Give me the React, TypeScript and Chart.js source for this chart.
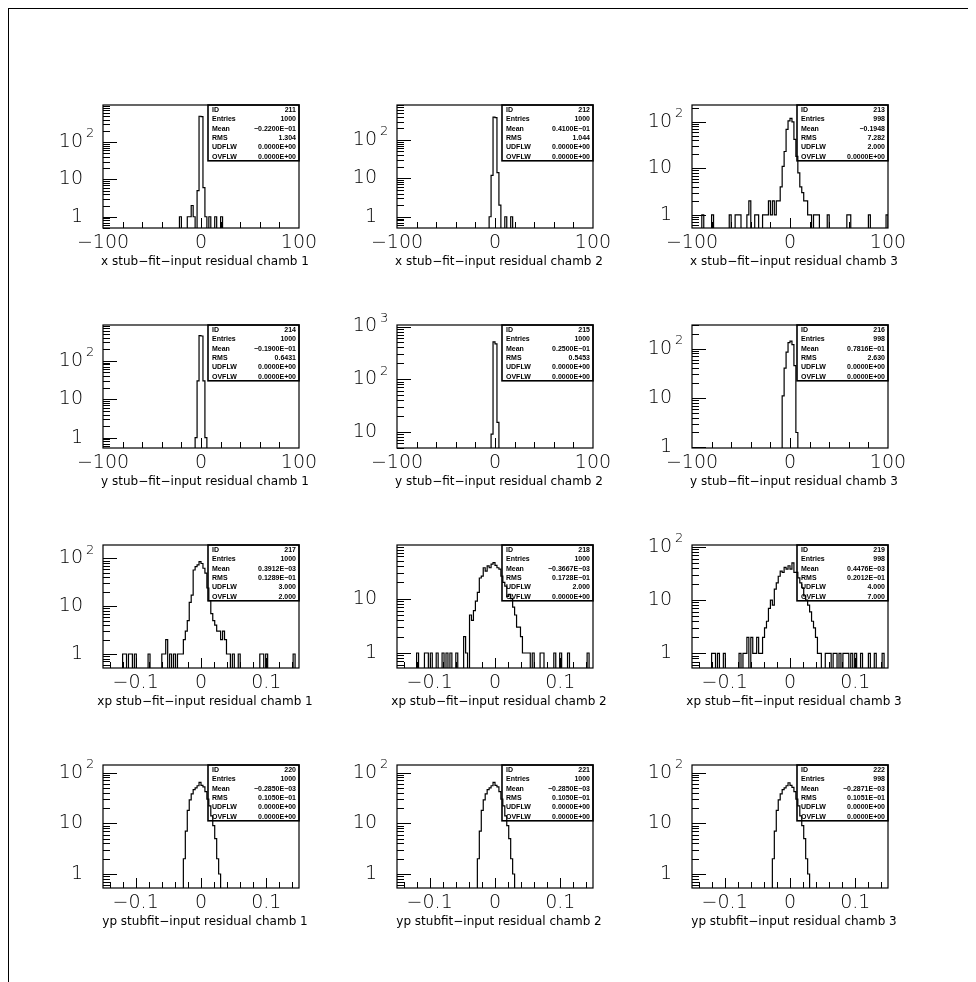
import React, { useEffect, useRef } from "react";
import { Chart, registerables } from "chart.js";

Chart.register(...registerables);

// ---------- data ----------
const histIds = [211, 212, 213, 214, 215, 216, 217, 218, 219, 220, 221, 222];

const axisTitles = [
  "x stub\u2212fit\u2212input residual chamb 1",
  "x stub\u2212fit\u2212input residual chamb 2",
  "x stub\u2212fit\u2212input residual chamb 3",
  "y stub\u2212fit\u2212input residual chamb 1",
  "y stub\u2212fit\u2212input residual chamb 2",
  "y stub\u2212fit\u2212input residual chamb 3",
  "xp stub\u2212fit\u2212input residual chamb 1",
  "xp stub\u2212fit\u2212input residual chamb 2",
  "xp stub\u2212fit\u2212input residual chamb 3",
  "yp stubfit\u2212input residual chamb 1",
  "yp stubfit\u2212input residual chamb 2",
  "yp stubfit\u2212input residual chamb 3",
];

const xLow = [-100, -100, -100, -100, -100, -100, -0.15, -0.15, -0.15, -0.15, -0.15, -0.15];
const xHigh = [100, 100, 100, 100, 100, 100, 0.15, 0.15, 0.15, 0.15, 0.15, 0.15];
const xLabelsWide = [-100, 0, 100];
const xLabelsNarrow = [-0.1, 0, 0.1];
const xTickStepWide = 20;
const xTickStepNarrow = 0.02;

const yMin = [0.5, 0.51, 0.52, 0.54, 4.9, 0.97, 0.51, 0.53, 0.53, 0.53, 0.53, 0.53];
const yMax = [980, 810, 230, 850, 1070, 300, 190, 97, 108, 141, 141, 141];

const entriesText = ["1000", "1000", "998", "1000", "1000", "998", "1000", "1000", "998", "1000", "1000", "998"];
const meanText = [
  "\u22120.2200E\u221201", "0.4100E\u221201", "\u22120.1948",
  "\u22120.1900E\u221201", "0.2500E\u221201", "0.7816E\u221201",
  "0.3912E\u221203", "\u22120.3667E\u221203", "0.4476E\u221203",
  "\u22120.2850E\u221203", "\u22120.2850E\u221203", "\u22120.2871E\u221203",
];
const rmsText = [
  "1.304", "1.044", "7.282",
  "0.6431", "0.5453", "2.630",
  "0.1289E\u221201", "0.1728E\u221201", "0.2012E\u221201",
  "0.1050E\u221201", "0.1050E\u221201", "0.1051E\u221201",
];
const udflwText = [
  "0.0000E+00", "0.0000E+00", "2.000",
  "0.0000E+00", "0.0000E+00", "0.0000E+00",
  "3.000", "2.000", "4.000",
  "0.0000E+00", "0.0000E+00", "0.0000E+00",
];
const ovflwText = [
  "0.0000E+00", "0.0000E+00", "0.0000E+00",
  "0.0000E+00", "0.0000E+00", "0.0000E+00",
  "2.000", "0.0000E+00", "7.000",
  "0.0000E+00", "0.0000E+00", "0.0000E+00",
];

// bin contents (100 bins each)
const h211 = [
  0, 0, 0, 0, 0, 0, 0, 0, 0, 0,
  0, 0, 0, 0, 0, 0, 0, 0, 0, 0,
  0, 0, 0, 0, 0, 0, 0, 0, 0, 0,
  0, 0, 0, 0, 0, 0, 0, 0, 0, 1,
  0, 0, 0, 1, 1, 2, 1, 0, 5, 490,
  480, 6, 1, 0, 1, 0, 0, 1, 0, 0,
  1, 0, 0, 0, 0, 0, 0, 0, 0, 0,
  0, 0, 0, 0, 0, 0, 0, 0, 0, 0,
  0, 0, 0, 0, 0, 0, 0, 0, 0, 0,
  0, 0, 0, 0, 0, 0, 0, 0, 0, 0,
];
const h212 = [
  0, 0, 0, 0, 0, 0, 0, 0, 0, 0,
  0, 0, 0, 0, 0, 0, 0, 0, 0, 0,
  0, 0, 0, 0, 0, 0, 0, 0, 0, 0,
  0, 0, 0, 0, 0, 0, 0, 0, 0, 0,
  0, 0, 0, 0, 0, 0, 0, 1, 12, 390,
  380, 14, 2, 0, 0, 1, 0, 0, 1, 0,
  0, 0, 0, 0, 0, 0, 0, 0, 0, 0,
  0, 0, 0, 0, 0, 0, 0, 0, 0, 0,
  0, 0, 0, 0, 0, 0, 0, 0, 0, 0,
  0, 0, 0, 0, 0, 0, 0, 0, 0, 0,
];
const h213 = [
  0, 0, 0, 0, 0, 1, 0, 0, 0, 0,
  1, 0, 0, 0, 0, 0, 0, 0, 0, 1,
  0, 0, 1, 1, 1, 0, 0, 0, 1, 2,
  0, 0, 1, 1, 0, 0, 1, 1, 1, 2,
  1, 2, 1, 2, 2, 4, 11, 23, 69, 105,
  118, 100, 42, 18, 8, 4, 3, 2, 2, 1,
  1, 0, 1, 1, 1, 0, 0, 0, 0, 1,
  0, 0, 0, 0, 0, 0, 0, 0, 0, 1,
  1, 0, 0, 0, 0, 0, 0, 0, 0, 0,
  1, 0, 0, 0, 0, 0, 0, 0, 0, 1,
];
const h214 = [
  0, 0, 0, 0, 0, 0, 0, 0, 0, 0,
  0, 0, 0, 0, 0, 0, 0, 0, 0, 0,
  0, 0, 0, 0, 0, 0, 0, 0, 0, 0,
  0, 0, 0, 0, 0, 0, 0, 0, 0, 0,
  0, 0, 0, 0, 0, 0, 0, 1, 30, 450,
  440, 30, 1, 0, 0, 0, 0, 0, 0, 0,
  0, 0, 0, 0, 0, 0, 0, 0, 0, 0,
  0, 0, 0, 0, 0, 0, 0, 0, 0, 0,
  0, 0, 0, 0, 0, 0, 0, 0, 0, 0,
  0, 0, 0, 0, 0, 0, 0, 0, 0, 0,
];
const h215 = [
  0, 0, 0, 0, 0, 0, 0, 0, 0, 0,
  0, 0, 0, 0, 0, 0, 0, 0, 0, 0,
  0, 0, 0, 0, 0, 0, 0, 0, 0, 0,
  0, 0, 0, 0, 0, 0, 0, 0, 0, 0,
  0, 0, 0, 0, 0, 0, 0, 0, 9, 510,
  470, 15, 0, 0, 0, 0, 0, 0, 0, 0,
  0, 0, 0, 0, 0, 0, 0, 0, 0, 0,
  0, 0, 0, 0, 0, 0, 0, 0, 0, 0,
  0, 0, 0, 0, 0, 0, 0, 0, 0, 0,
  0, 0, 0, 0, 0, 0, 0, 0, 0, 0,
];
const h216 = [
  0, 0, 0, 0, 0, 0, 0, 0, 0, 0,
  0, 0, 0, 0, 0, 0, 0, 0, 0, 0,
  0, 0, 0, 0, 0, 0, 0, 0, 0, 0,
  0, 0, 0, 0, 0, 0, 0, 0, 0, 0,
  0, 0, 0, 0, 0, 0, 11, 40, 85, 132,
  142, 120, 45, 2, 0, 0, 0, 0, 0, 0,
  0, 0, 0, 0, 0, 0, 0, 0, 0, 0,
  0, 0, 0, 0, 0, 0, 0, 0, 0, 0,
  0, 0, 0, 0, 0, 0, 0, 0, 0, 0,
  0, 0, 0, 0, 0, 0, 0, 0, 0, 0,
];
const h217 = [
  0, 0, 0, 0, 0, 0, 0, 0, 0, 0,
  1, 1, 0, 1, 1, 0, 1, 0, 0, 0,
  0, 0, 0, 1, 0, 0, 0, 0, 0, 0,
  1, 1, 2, 0, 1, 0, 1, 0, 1, 1,
  1, 2, 3, 5, 12, 17, 57, 67, 73, 85,
  78, 62, 49, 24, 13, 7, 5, 4, 3, 3,
  2, 3, 2, 1, 1, 0, 1, 0, 0, 1,
  0, 0, 0, 0, 0, 0, 0, 0, 0, 0,
  1, 1, 0, 1, 0, 0, 0, 0, 0, 0,
  0, 0, 0, 0, 0, 0, 0, 1, 0, 0,
];
const h218 = [
  0, 0, 0, 0, 0, 0, 0, 0, 0, 0,
  1, 0, 0, 0, 1, 1, 0, 1, 0, 0,
  1, 0, 0, 1, 0, 1, 0, 1, 0, 0,
  1, 0, 0, 0, 2, 1, 0, 5, 4, 6,
  9, 13, 24, 26, 37, 32, 40, 37, 43, 46,
  41, 37, 35, 26, 20, 17, 11, 12, 10, 7,
  5, 3, 3, 2, 1, 1, 1, 1, 0, 1,
  0, 0, 0, 1, 1, 0, 0, 0, 0, 0,
  1, 0, 0, 1, 0, 0, 0, 1, 0, 0,
  0, 0, 0, 0, 0, 0, 0, 1, 0, 0,
];
const h219 = [
  0, 0, 0, 0, 0, 0, 0, 0, 0, 0,
  1, 1, 0, 1, 0, 0, 1, 0, 0, 0,
  0, 0, 0, 0, 1, 0, 1, 1, 2, 0,
  2, 1, 1, 2, 1, 1, 2, 3, 4, 7,
  10, 8, 16, 21, 28, 35, 33, 41, 38, 44,
  38, 50, 33, 33, 26, 21, 17, 12, 10, 8,
  6, 4, 3, 2, 1, 1, 0, 0, 1, 1,
  1, 0, 1, 1, 0, 1, 0, 1, 1, 1,
  0, 1, 0, 1, 0, 0, 1, 0, 0, 0,
  1, 0, 0, 1, 0, 0, 0, 1, 0, 0,
];
const h220 = [
  0, 0, 0, 0, 0, 0, 0, 0, 0, 0,
  0, 0, 0, 0, 0, 0, 0, 0, 0, 0,
  0, 0, 0, 0, 0, 0, 0, 0, 0, 0,
  0, 0, 0, 0, 0, 0, 0, 0, 0, 0,
  0, 2, 7, 18, 29, 38, 46, 50, 55, 64,
  56, 52, 42, 30, 22, 14, 9, 5, 2, 1,
  0, 0, 0, 0, 0, 0, 0, 0, 0, 0,
  0, 0, 0, 0, 0, 0, 0, 0, 0, 0,
  0, 0, 0, 0, 0, 0, 0, 0, 0, 0,
  0, 0, 0, 0, 0, 0, 0, 0, 0, 0,
];
const h221 = [
  0, 0, 0, 0, 0, 0, 0, 0, 0, 0,
  0, 0, 0, 0, 0, 0, 0, 0, 0, 0,
  0, 0, 0, 0, 0, 0, 0, 0, 0, 0,
  0, 0, 0, 0, 0, 0, 0, 0, 0, 0,
  0, 2, 7, 18, 29, 38, 46, 50, 55, 64,
  56, 52, 42, 30, 22, 14, 9, 5, 2, 1,
  0, 0, 0, 0, 0, 0, 0, 0, 0, 0,
  0, 0, 0, 0, 0, 0, 0, 0, 0, 0,
  0, 0, 0, 0, 0, 0, 0, 0, 0, 0,
  0, 0, 0, 0, 0, 0, 0, 0, 0, 0,
];
const h222 = [
  0, 0, 0, 0, 0, 0, 0, 0, 0, 0,
  0, 0, 0, 0, 0, 0, 0, 0, 0, 0,
  0, 0, 0, 0, 0, 0, 0, 0, 0, 0,
  0, 0, 0, 0, 0, 0, 0, 0, 0, 0,
  0, 2, 7, 18, 29, 38, 46, 50, 55, 63,
  56, 51, 42, 30, 22, 14, 9, 5, 2, 1,
  0, 0, 0, 0, 0, 0, 0, 0, 0, 0,
  0, 0, 0, 0, 0, 0, 0, 0, 0, 0,
  0, 0, 0, 0, 0, 0, 0, 0, 0, 0,
  0, 0, 0, 0, 0, 0, 0, 0, 0, 0,
];
const hists = [h211, h212, h213, h214, h215, h216, h217, h218, h219, h220, h221, h222];

// ---------- layout ----------
const COL_LEFT = [103, 397, 692];
const ROW_TOP = [105, 325, 545, 765];
const PLOT_W = 196;
const PLOT_H = 123;
const PAD_L = 50;
const PAD_T = 30;
const PAD_R = 40;
const PAD_B = 50;
const CANVAS_W = PAD_L + PLOT_W + PAD_R;
const CANVAS_H = PAD_T + PLOT_H + PAD_B;
const ORIGIN = 9; // body margin 8 + frame border 1

const LABEL_FONT = '200 19px "DejaVu Sans", sans-serif';
const SUP_FONT = '200 13px "DejaVu Sans", sans-serif';
const TITLE_FONT = '12px "DejaVu Sans", sans-serif';
const STAT_FONT = 'bold 7px "Liberation Sans", Arial, sans-serif';

function fmt(v: number): string {
  return String(v).replace("-", "\u2212");
}

function makePawPlugin(idx: number) {
  return {
    id: "paw" + idx,
    afterDatasetsDraw(chart: any) {
      const { ctx, chartArea: a, scales } = chart;
      const xs = scales.x;
      const ys = scales.y;
      const wide = xHigh[idx] - xLow[idx] > 1;
      ctx.save();
      ctx.strokeStyle = "#000";
      ctx.fillStyle = "#000";

      // frame
      ctx.lineWidth = 1.2;
      ctx.strokeRect(a.left, a.top, a.right - a.left, a.bottom - a.top);

      // y ticks (log, inside)
      ctx.lineWidth = 1;
      const kLo = Math.floor(Math.log10(ys.min));
      const kHi = Math.ceil(Math.log10(ys.max));
      for (let k = kLo; k <= kHi; k++) {
        for (let m = 1; m <= 9; m++) {
          const v = m * Math.pow(10, k);
          if (v < ys.min || v > ys.max) continue;
          const y = Math.round(ys.getPixelForValue(v)) + 0.5;
          const len = m === 1 ? 14 : 7;
          ctx.beginPath();
          ctx.moveTo(a.left, y);
          ctx.lineTo(a.left + len, y);
          ctx.stroke();
        }
      }

      // x ticks (inside, from bottom)
      const step = wide ? xTickStepWide : xTickStepNarrow;
      const labels = wide ? xLabelsWide : xLabelsNarrow;
      const lo = xLow[idx];
      const hi = xHigh[idx];
      const first = Math.ceil((lo + 1e-9) / step);
      const last = Math.floor((hi - 1e-9) / step);
      for (let j = first; j <= last; j++) {
        const v = j * step;
        if (v <= lo + 1e-9 || v >= hi - 1e-9) continue;
        const isMajor = labels.some((l) => Math.abs(l - v) < step * 0.01);
        const x = Math.round(xs.getPixelForValue(v)) + 0.5;
        ctx.beginPath();
        ctx.moveTo(x, a.bottom);
        ctx.lineTo(x, a.bottom - (isMajor ? 10 : 6));
        ctx.stroke();
      }

      // y labels: 1, 10, 10^k
      ctx.textBaseline = "middle";
      for (let k = kLo; k <= kHi; k++) {
        const v = Math.pow(10, k);
        if (v < ys.min * 0.98 || v > ys.max * 1.01) continue;
        const y = ys.getPixelForValue(v);
        const rx = a.left - 20;
        ctx.font = LABEL_FONT;
        ctx.textAlign = "right";
        if (k === 0) {
          ctx.fillText("1", rx, y);
        } else if (k === 1) {
          ctx.fillText("10", rx, y);
        } else {
          ctx.fillText("10", rx, y);
          ctx.font = SUP_FONT;
          ctx.textAlign = "left";
          ctx.fillText(String(k), rx + 3, y - 8);
        }
      }

      // x labels
      ctx.font = LABEL_FONT;
      ctx.textAlign = "center";
      for (const l of labels) {
        ctx.fillText(fmt(l), xs.getPixelForValue(l), a.bottom + 15);
      }

      // axis title
      ctx.font = TITLE_FONT;
      ctx.textAlign = "center";
      ctx.fillText(axisTitles[idx], (a.left + a.right) / 2 + 4, a.bottom + 34);

      // statistics box
      const bw = 91;
      const rowH = 9.3;
      const bh = rowH * 6;
      const bx = a.right - bw;
      ctx.lineWidth = 1.6;
      ctx.strokeRect(bx, a.top, bw, bh);
      const rowsL = ["ID", "Entries", "Mean", "RMS", "UDFLW", "OVFLW"];
      const rowsR = [String(histIds[idx]), entriesText[idx], meanText[idx], rmsText[idx], udflwText[idx], ovflwText[idx]];
      ctx.font = STAT_FONT;
      for (let i = 0; i < 6; i++) {
        const y = a.top + rowH * i + rowH / 2 + 0.5;
        ctx.textAlign = "left";
        ctx.fillText(rowsL[i], bx + 4, y);
        ctx.textAlign = "right";
        ctx.fillText(rowsR[i], a.right - 3, y);
      }
      ctx.restore();
    },
  };
}

function Panel({ idx }: { idx: number }) {
  const ref = useRef<HTMLCanvasElement | null>(null);
  useEffect(() => {
    const canvas = ref.current;
    if (!canvas) return;
    const counts = hists[idx];
    const lo = xLow[idx];
    const hi = xHigh[idx];
    const w = (hi - lo) / counts.length;
    const below = yMin[idx] / 100; // empty bins drop below the axis (clipped)
    const pts = counts.map((c, i) => ({ x: lo + i * w, y: c > 0 ? c : below }));
    pts.push({ x: hi, y: below });
    const chart = new Chart(canvas, {
      type: "line",
      data: {
        datasets: [
          {
            data: pts,
            stepped: "before",
            borderColor: "#000",
            borderWidth: 1.2,
            pointRadius: 0,
            fill: false,
            clip: 0,
            borderJoinStyle: "miter",
          } as any,
        ],
      },
      options: {
        animation: false,
        responsive: false,
        maintainAspectRatio: false,
        events: [],
        layout: { padding: { left: PAD_L, top: PAD_T, right: PAD_R, bottom: PAD_B } },
        plugins: { legend: { display: false }, tooltip: { enabled: false } },
        scales: {
          x: { type: "linear", min: lo, max: hi, bounds: "data", display: false },
          y: { type: "logarithmic", min: yMin[idx], max: yMax[idx], bounds: "data", display: false },
        },
      } as any,
      plugins: [makePawPlugin(idx)],
    });
    return () => chart.destroy();
  }, [idx]);
  const r = Math.floor(idx / 3);
  const c = idx % 3;
  return (
    <canvas
      ref={ref}
      width={CANVAS_W}
      height={CANVAS_H}
      style={{
        position: "absolute",
        left: COL_LEFT[c] - PAD_L - ORIGIN,
        top: ROW_TOP[r] - PAD_T - ORIGIN,
        width: CANVAS_W,
        height: CANVAS_H,
      }}
    />
  );
}

export default function App() {
  return (
    <div
      style={{
        position: "relative",
        width: 968,
        height: 974,
        boxSizing: "border-box",
        borderTop: "1px solid #000",
        borderLeft: "1px solid #000",
        background: "#fff",
        overflow: "hidden",
      }}
    >
      {histIds.map((id, i) => (
        <Panel key={id} idx={i} />
      ))}
    </div>
  );
}
